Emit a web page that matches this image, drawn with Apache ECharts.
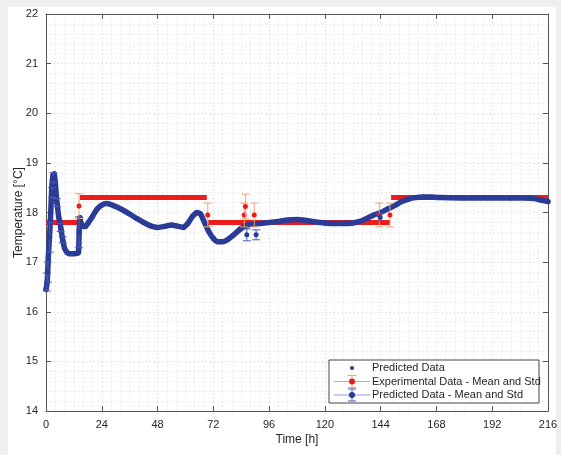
<!DOCTYPE html>
<html>
<head>
<meta charset="utf-8">
<script src="https://cdn.jsdelivr.net/npm/echarts@6/dist/echarts.min.js"></script>
<style>
  html, body { margin: 0; padding: 0; background: #efefef; }
  #panel { position: absolute; left: 8px; top: 7px; width: 548px; height: 448px; background: #ffffff; }
  #chart { position: absolute; left: 0; top: 0; width: 561px; height: 455px; }
</style>
</head>
<body>
<div id="panel"></div>
<div id="chart"></div>
<script>
// Axis ticks
const xTicks = [0, 24, 48, 72, 96, 120, 144, 168, 192, 216];
const yTicks = [14, 15, 16, 17, 18, 19, 20, 21, 22];

// Predicted temperature (time in h, temperature in °C)
const predHours = [0, 0.5, 1.0, 1.5, 2.0, 2.5, 3.0, 3.5, 4.0, 4.5, 5.0, 5.5, 6.0, 6.5, 7.0, 7.5, 8.0, 9.0,
  10, 12, 13.5, 14.0, 14.3, 14.6, 15, 16, 17, 18, 20, 22, 24, 26, 28, 30, 33, 36, 39, 42, 45, 48, 51, 54,
  57, 59, 61, 63, 65, 66.5, 68, 70, 72, 74, 76, 78, 80, 82, 84, 86, 88, 92, 96, 100, 104, 108, 112, 116,
  120, 124, 128, 132, 135, 138, 141, 144, 147, 150, 153, 156, 159, 162, 166, 170, 180, 190, 200, 206,
  210, 213, 216];
const predTemp = [16.45, 16.6, 17.1, 17.5, 17.95, 18.5, 18.75, 18.78, 18.6, 18.3, 18.1, 17.9, 17.8, 17.65,
  17.5, 17.38, 17.28, 17.2, 17.17, 17.17, 17.18, 17.2, 17.65, 17.9, 17.8, 17.72, 17.72, 17.78, 17.92,
  18.07, 18.15, 18.18, 18.16, 18.12, 18.05, 17.97, 17.88, 17.8, 17.73, 17.7, 17.72, 17.75, 17.72, 17.7,
  17.78, 17.92, 18.0, 17.97, 17.82, 17.62, 17.48, 17.41, 17.41, 17.45, 17.52, 17.6, 17.68, 17.73, 17.76,
  17.78, 17.8, 17.82, 17.85, 17.86, 17.84, 17.81, 17.79, 17.78, 17.78, 17.79, 17.82, 17.88, 17.95, 18.0,
  18.07, 18.14, 18.22, 18.27, 18.3, 18.31, 18.31, 18.3, 18.29, 18.29, 18.29, 18.29, 18.28, 18.25, 18.22];

// Experimental mean per period
const expStart = [0, 14.6, 69.8, 148.5];
const expEnd = [14.0, 69.2, 148.0, 216];
const expMean = [17.8, 18.3, 17.8, 18.3];

// Experimental mean and std points
const expErrHours = [14.2, 69.6, 85.3, 85.8, 89.6, 143.4, 148.0];
const expErrMean = [18.13, 17.95, 17.95, 18.12, 17.95, 17.95, 17.95];
const expErrStd = [0.25, 0.24, 0.24, 0.25, 0.24, 0.24, 0.24];

// Predicted mean and std points
const predErrHours = [0.3, 0.8, 1.6, 2.6, 3.2, 4.6, 6.3, 7.2, 14.2, 86.4, 90.4, 143.8];
const predErrMean = [16.6, 16.8, 17.5, 18.4, 18.7, 18.2, 17.7, 17.45, 17.6, 17.55, 17.55, 17.9];
const predErrStd = [0.18, 0.2, 0.3, 0.1, 0.1, 0.08, 0.08, 0.06, 0.31, 0.12, 0.1, 0.08];

const BLUE = '#2b3c97';
const RED = '#ee1b1b';
const ORANGE = '#f5a070';
const LIGHTBLUE = '#8e97dc';
const ERRBLUE = '#4a5ab8';
const TEXT = '#262626';
const FONT = '"Liberation Sans", Arial, Helvetica, sans-serif';

const predLine = predHours.map((t, i) => [t, predTemp[i]]);
const expLine = [];
expStart.forEach((s, i) => {
  if (i > 0) expLine.push([s, '-']);
  expLine.push([s, expMean[i]]);
  expLine.push([expEnd[i], expMean[i]]);
});
const expErr = expErrHours.map((t, i) => [t, expErrMean[i], expErrStd[i]]);
const predErr = predErrHours.map((t, i) => [t, predErrMean[i], predErrStd[i]]);

function errorBar(lineColor, dotColor, dotSize) {
  return function (params, api) {
    const t = api.value(0), m = api.value(1), s = api.value(2);
    const c = api.coord([t, m]);
    const hi = api.coord([t, m + s]);
    const lo = api.coord([t, m - s]);
    const w = 4;
    const ls = { stroke: lineColor, lineWidth: 1 };
    return {
      type: 'group',
      children: [
        { type: 'line', shape: { x1: c[0], y1: hi[1], x2: c[0], y2: lo[1] }, style: ls },
        { type: 'line', shape: { x1: c[0] - w, y1: hi[1], x2: c[0] + w, y2: hi[1] }, style: ls },
        { type: 'line', shape: { x1: c[0] - w, y1: lo[1], x2: c[0] + w, y2: lo[1] }, style: ls },
        { type: 'circle', shape: { cx: c[0], cy: c[1], r: dotSize }, style: { fill: dotColor } }
      ]
    };
  };
}

const gridLine = { show: true, lineStyle: { color: '#d0d0d0', type: [1, 3], width: 1 } };
const minorLine = { show: true, lineStyle: { color: '#e0e0e0', type: [1, 3], width: 1 } };
const frameLine = { show: true, onZero: false, lineStyle: { color: '#555555', width: 1 } };
const tickIn = { show: true, inside: true, length: 5, lineStyle: { color: '#555555' } };
const labelStyle = { color: TEXT, fontSize: 11, fontFamily: FONT };

// Legend block
const LX = 329, LY = 360, LW = 210, LH = 43;
const rows = [368, 381.5, 395];
const keyX = 352, lineX0 = 334, lineX1 = 370, textX = 372;
function keyBar(y, lineColor, barColor, dotColor) {
  return [
    { type: 'line', shape: { x1: lineX0, y1: y, x2: lineX1, y2: y }, style: { stroke: lineColor, lineWidth: 1 } },
    { type: 'line', shape: { x1: keyX, y1: y - 6, x2: keyX, y2: y + 6 }, style: { stroke: barColor, lineWidth: 1 } },
    { type: 'line', shape: { x1: keyX - 4, y1: y - 6, x2: keyX + 4, y2: y - 6 }, style: { stroke: barColor, lineWidth: 1 } },
    { type: 'line', shape: { x1: keyX - 4, y1: y + 6, x2: keyX + 4, y2: y + 6 }, style: { stroke: barColor, lineWidth: 1 } },
    { type: 'circle', shape: { cx: keyX, cy: y, r: 3 }, style: { fill: dotColor } }
  ];
}
const legendGraphic = [
  { type: 'rect', shape: { x: LX, y: LY, width: LW, height: LH }, style: { fill: '#ffffff', stroke: '#444444', lineWidth: 1 }, z: 100 },
  { type: 'circle', shape: { cx: keyX, cy: rows[0], r: 2 }, style: { fill: BLUE }, z: 101 },
  ...keyBar(rows[1], ORANGE, ORANGE, RED).map(e => Object.assign(e, { z: 101 })),
  ...keyBar(rows[2], LIGHTBLUE, ERRBLUE, BLUE).map(e => Object.assign(e, { z: 101 })),
  { type: 'text', x: textX, y: rows[0], style: { text: 'Predicted Data', fill: TEXT, font: '11px ' + FONT, textVerticalAlign: 'middle' }, z: 101 },
  { type: 'text', x: textX, y: rows[1], style: { text: 'Experimental Data - Mean and Std', fill: TEXT, font: '11px ' + FONT, textVerticalAlign: 'middle' }, z: 101 },
  { type: 'text', x: textX, y: rows[2], style: { text: 'Predicted Data - Mean and Std', fill: TEXT, font: '11px ' + FONT, textVerticalAlign: 'middle' }, z: 101 }
];

const chart = echarts.init(document.getElementById('chart'), null, { renderer: 'canvas' });
chart.setOption({
  backgroundColor: 'transparent',
  animation: false,
  grid: { left: 46, right: 13, top: 14, bottom: 44, containLabel: false, outerBoundsMode: 'none' },
  xAxis: [
    {
      type: 'value', min: xTicks[0], max: xTicks[xTicks.length - 1], interval: 24,
      name: 'Time [h]', nameLocation: 'middle', nameGap: 23, nameMoveOverlap: false,
      nameTextStyle: { color: TEXT, fontSize: 12, fontFamily: FONT },
      axisLine: frameLine, axisTick: tickIn,
      axisLabel: Object.assign({ margin: 8 }, labelStyle),
      splitLine: gridLine,
      minorTick: { show: false, splitNumber: 6 },
      minorSplitLine: minorLine
    },
    {
      type: 'value', position: 'top', min: xTicks[0], max: xTicks[xTicks.length - 1], interval: 24,
      axisLine: frameLine, axisTick: tickIn, axisLabel: { show: false }, splitLine: { show: false }
    }
  ],
  yAxis: [
    {
      type: 'value', min: yTicks[0], max: yTicks[yTicks.length - 1], interval: 1,
      name: 'Temperature [°C]', nameLocation: 'middle', nameGap: 21, nameRotate: 90, nameMoveOverlap: false,
      nameTextStyle: { color: TEXT, fontSize: 12, fontFamily: FONT },
      axisLine: frameLine, axisTick: tickIn,
      axisLabel: Object.assign({ margin: 8 }, labelStyle),
      splitLine: gridLine,
      minorTick: { show: false, splitNumber: 5 },
      minorSplitLine: minorLine
    },
    {
      type: 'value', position: 'right', min: yTicks[0], max: yTicks[yTicks.length - 1], interval: 1,
      axisLine: frameLine, axisTick: tickIn, axisLabel: { show: false }, splitLine: { show: false }
    }
  ],
  graphic: legendGraphic,
  series: [
    {
      name: 'Experimental Data - Mean', type: 'line', data: expLine, showSymbol: false,
      lineStyle: { color: RED, width: 5, cap: 'butt' }, connectNulls: false, z: 2
    },
    {
      name: 'Predicted Data', type: 'line', data: predLine, smooth: 0.2,
      symbol: 'circle', symbolSize: 5, showSymbol: true,
      itemStyle: { color: BLUE }, lineStyle: { color: BLUE, width: 5.5, join: 'round', cap: 'round' }, z: 3
    },
    {
      name: 'Experimental Data - Mean and Std', type: 'custom', data: expErr,
      renderItem: errorBar(ORANGE, RED, 2.5), z: 4
    },
    {
      name: 'Predicted Data - Mean and Std', type: 'custom', data: predErr,
      renderItem: errorBar(ERRBLUE, BLUE, 2.5), z: 5
    }
  ]
});
</script>
</body>
</html>
